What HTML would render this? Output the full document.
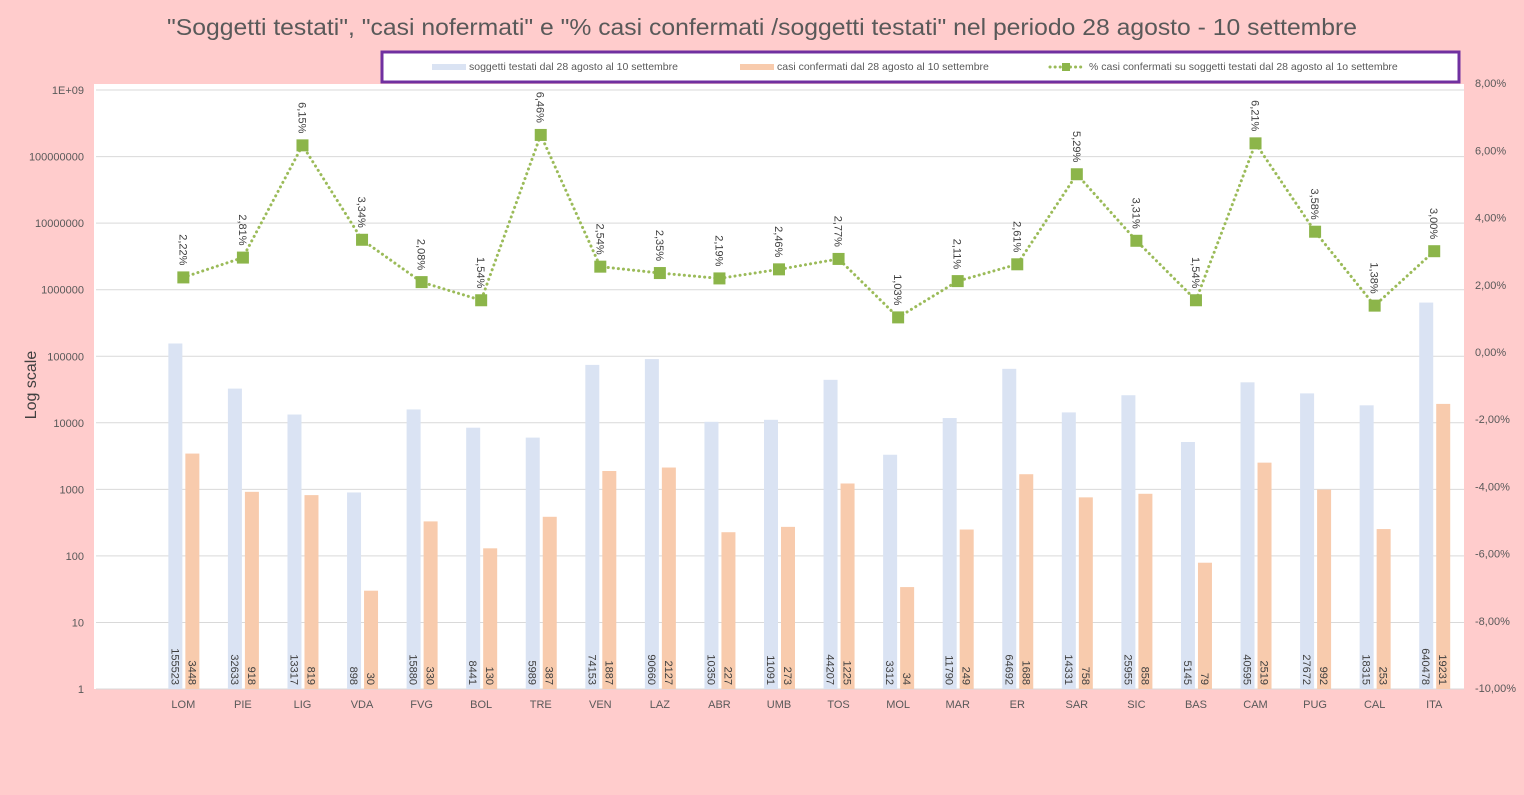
<!DOCTYPE html>
<html><head><meta charset="utf-8"><style>
body{margin:0;background:#FFCCCC;}
svg{display:block;font-family:"Liberation Sans",sans-serif;}
</style></head><body>
<svg width="1524" height="795" id="svg">
<rect x="0" y="0" width="1524" height="795" fill="#FFCCCC"/>
<text x="762" y="35" text-anchor="middle" font-size="23" fill="#595959" textLength="1190" lengthAdjust="spacingAndGlyphs">"Soggetti testati", "casi nofermati" e "% casi confermati /soggetti testati" nel periodo 28 agosto - 10 settembre</text>
<rect x="94" y="84" width="1370" height="605" fill="#fff"/>
<g id="grid"></g>
<g id="bars"></g>
<g id="line"></g>
<g id="axes"></g>
<text transform="translate(36,385) rotate(-90)" text-anchor="middle" font-size="16" fill="#404040">Log scale</text>
<g>
<rect x="382" y="52" width="1077" height="30" fill="#fff" stroke="#7030A0" stroke-width="3"/>
<g><rect x="432" y="64" width="34" height="6" fill="#DAE3F3"/><text x="469" y="70" font-size="10.5" fill="#595959">soggetti testati dal 28 agosto al 10 settembre</text></g>
<g><rect x="740" y="64" width="34" height="6" fill="#F8CBAD"/><text x="777" y="70" font-size="10.5" fill="#595959">casi confermati dal 28 agosto al 10 settembre</text></g>
<g><line x1="1050" y1="67" x2="1083" y2="67" stroke="#9BBB59" stroke-width="3" stroke-dasharray="0.1,5" stroke-linecap="round"/><rect x="1062" y="63" width="8" height="8" fill="#8CB54A"/><text x="1089" y="70" font-size="10.5" fill="#595959">% casi confermati su soggetti testati dal 28 agosto  al 1o settembre</text></g>
</g>
</svg>
<script>
const categories=["LOM","PIE","LIG","VDA","FVG","BOL","TRE","VEN","LAZ","ABR","UMB","TOS","MOL","MAR","ER","SAR","SIC","BAS","CAM","PUG","CAL","ITA"];
const tested=[155523,32633,13317,898,15880,8441,5989,74153,90660,10350,11091,44207,3312,11790,64692,14331,25955,5145,40595,27672,18315,640478];
const confirmed=[3448,918,819,30,330,130,387,1887,2127,227,273,1225,34,249,1688,758,858,79,2519,992,253,19231];
const percent=[2.22,2.81,6.15,3.34,2.08,1.54,6.46,2.54,2.35,2.19,2.46,2.77,1.03,2.11,2.61,5.29,3.31,1.54,6.21,3.58,1.38,3.00];
const leftTicks=["1","10","100","1000","10000","100000","1000000","10000000","100000000","1E+09"];
const rightTicks=[-10,-8,-6,-4,-2,0,2,4,6,8];
const NS="http://www.w3.org/2000/svg";
const X0=94,X1=1464,nCat=23,band=(X1-X0)/nCat;
const cx=i=>X0+band*(i+1.5);
const yL=v=>689-Math.log10(Math.max(v,1))*66.55;
const yR=p=>352-p*33.6;
function mk(tag,attrs,parent,txt){const e=document.createElementNS(NS,tag);for(const k in attrs)e.setAttribute(k,attrs[k]);if(txt!==undefined)e.textContent=txt;document.getElementById(parent).appendChild(e);return e;}
leftTicks.forEach((t,i)=>{
 const y=yL(Math.pow(10,i));
 const g=mk('line',{x1:96,x2:X1,y1:y,y2:y,stroke:'#D9D9D9','stroke-width':1},'grid');
 
 
 const l=mk('text',{x:84,y:y+4,'text-anchor':'end','font-size':11,fill:'#595959'},'axes',t);
 
 
});
rightTicks.forEach(p=>{
 const l=mk('text',{x:1475,y:yR(p)+4,'font-size':11,fill:'#595959'},'axes',p.toFixed(2).replace('.',',')+'%');
 
 
});
categories.forEach((c,i)=>{
 const x=cx(i);
 const b1=mk('rect',{x:x-15,y:yL(tested[i]),width:14,height:689-yL(tested[i]),fill:'#DAE3F3'},'bars');
 
 
 const b2=mk('rect',{x:x+2,y:yL(confirmed[i]),width:14,height:689-yL(confirmed[i]),fill:'#F8CBAD'},'bars');
 
 
 const t1=mk('text',{transform:`translate(${x-12},685) rotate(90)`,'text-anchor':'end','font-size':11,fill:'#404040'},'bars',String(tested[i]));
 
 
 const t2=mk('text',{transform:`translate(${x+5},685) rotate(90)`,'text-anchor':'end','font-size':11,fill:'#404040'},'bars',String(confirmed[i]));
 
 
 const cl=mk('text',{x:x,y:708,'text-anchor':'middle','font-size':11,fill:'#595959'},'axes',c);
 
 
});
const pts=percent.map((p,i)=>cx(i)+','+yR(p)).join(' ');
const pl=mk('polyline',{points:pts,fill:'none',stroke:'#9BBB59','stroke-width':3,'stroke-dasharray':'0.1,5','stroke-linecap':'round'},'line');


percent.forEach((p,i)=>{
 const x=cx(i),y=yR(p);
 const m=mk('rect',{x:x-6,y:y-6,width:12,height:12,fill:'#8CB54A'},'line');
 
 
 const t=mk('text',{transform:`translate(${x-4},${y-12}) rotate(90)`,'text-anchor':'end','font-size':11,fill:'#404040'},'line',p.toFixed(2).replace('.',',')+'%');
 
 
});
</script>
</body></html>
